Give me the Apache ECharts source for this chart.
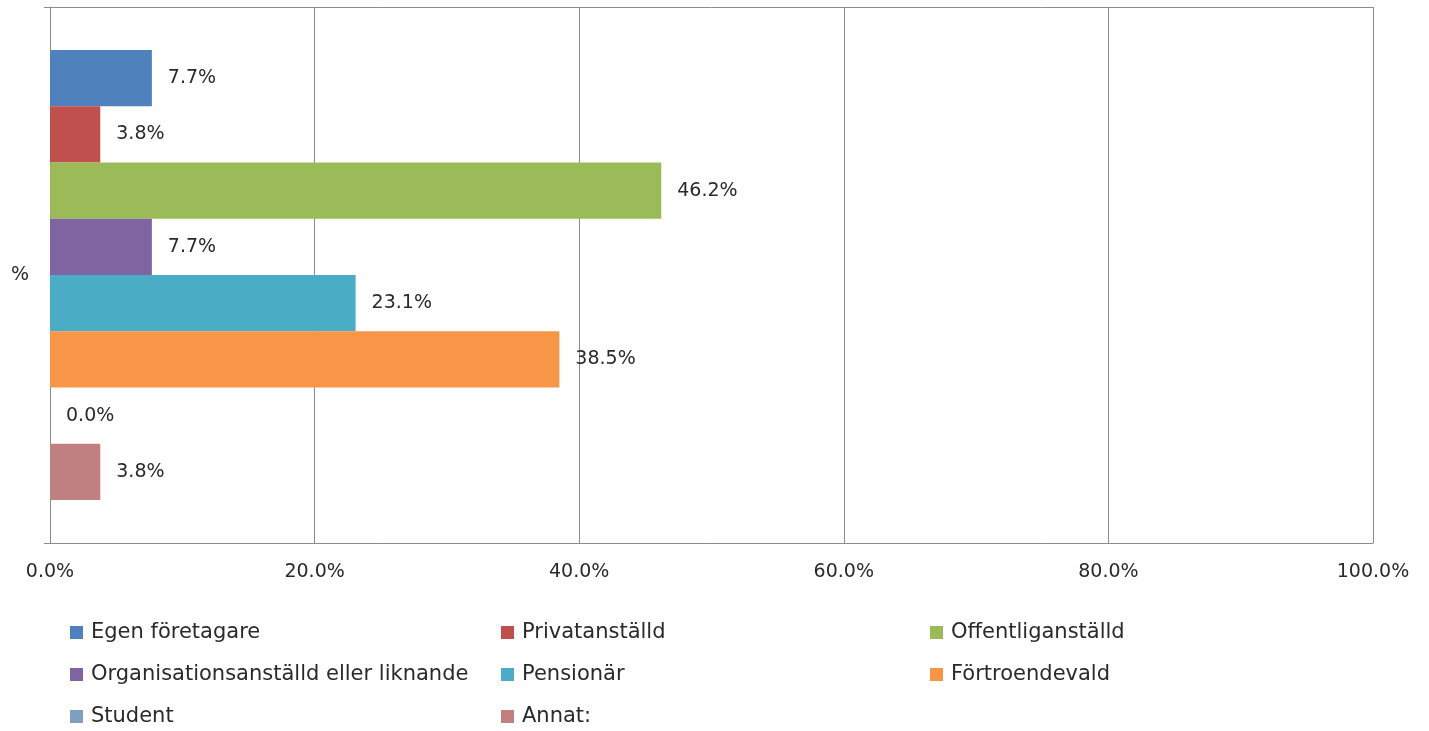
<!DOCTYPE html>
<html>
<head>
<meta charset="utf-8">
<script src="https://cdn.jsdelivr.net/npm/echarts@6/dist/echarts.min.js"></script>
<style>
  html, body { margin: 0; padding: 0; background: #fff; }
  #chart { width: 1429px; height: 731px; }
</style>
</head>
<body>
<div id="chart"></div>
<script>
// data
var categories = ['%'];
var seriesNames = ['Egen företagare', 'Privatanställd', 'Offentliganställd',
    'Organisationsanställd eller liknande', 'Pensionär', 'Förtroendevald',
    'Student', 'Annat:'];
var seriesValues = [7.7, 3.8, 46.2, 7.7, 23.1, 38.5, 0.0, 3.8];
var seriesColors = ['#4F81BD', '#C0504D', '#9BBB59', '#8064A2', '#4BACC6', '#F79646', '#809EC2', '#C0807F'];
var xTicks = [0, 20, 40, 60, 80, 100];

// legend columns like the excel layout
var legendCols = [
    ['Egen företagare', 'Organisationsanställd eller liknande', 'Student'],
    ['Privatanställd', 'Pensionär', 'Annat:'],
    ['Offentliganställd', 'Förtroendevald']
];
var legendLeft = [65, 496, 925];

var font = 'DejaVu Sans';
var textColor = '#2a2a2a';
var lineColor = '#8c8c8c';

var series = [];
for (var i = 0; i < seriesNames.length; i++) {
    series.push({
        name: seriesNames[i],
        type: 'bar',
        data: [seriesValues[i]],
        barGap: '0%',
        barCategoryGap: '16%',
        itemStyle: { color: seriesColors[i] },
        label: {
            show: true,
            position: 'right',
            distance: 16,
            fontFamily: font,
            fontSize: 19,
            color: textColor,
            formatter: function (p) { return p.value.toFixed(1) + '%'; }
        }
    });
}

var legends = legendCols.map(function (col, k) {
    return {
        orient: 'vertical',
        left: legendLeft[k],
        top: 617,
        height: 200,
        data: col,
        icon: 'rect',
        itemWidth: 13,
        itemHeight: 13,
        itemGap: 21,
        selectedMode: false,
        textStyle: { fontFamily: font, fontSize: 21, color: textColor, lineHeight: 21, padding: [0, 0, 0, 3] }
    };
});

var chart = echarts.init(document.getElementById('chart'));
chart.setOption({
    backgroundColor: '#fff',
    animation: false,
    legend: legends,
    grid: { left: 50, right: 56, top: 7, bottom: 188, containLabel: false },
    xAxis: {
        type: 'value',
        min: 0,
        max: 100,
        interval: 20,
        axisLine: { show: true, lineStyle: { color: lineColor, width: 1 } },
        axisTick: { show: false },
        splitLine: { show: true, lineStyle: { color: lineColor, width: 1 } },
        axisLabel: {
            margin: 20,
            fontFamily: font,
            fontSize: 19,
            color: textColor,
            formatter: function (v) { return v.toFixed(1) + '%'; }
        }
    },
    yAxis: {
        type: 'category',
        data: categories,
        axisLine: { show: true, lineStyle: { color: lineColor, width: 1 } },
        axisTick: { show: true, length: 6, lineStyle: { color: lineColor } },
        splitLine: { show: true, lineStyle: { color: lineColor, width: 1 } },
        axisLabel: { margin: 21, fontFamily: font, fontSize: 19, color: textColor }
    },
    series: series
});
</script>
</body>
</html>
